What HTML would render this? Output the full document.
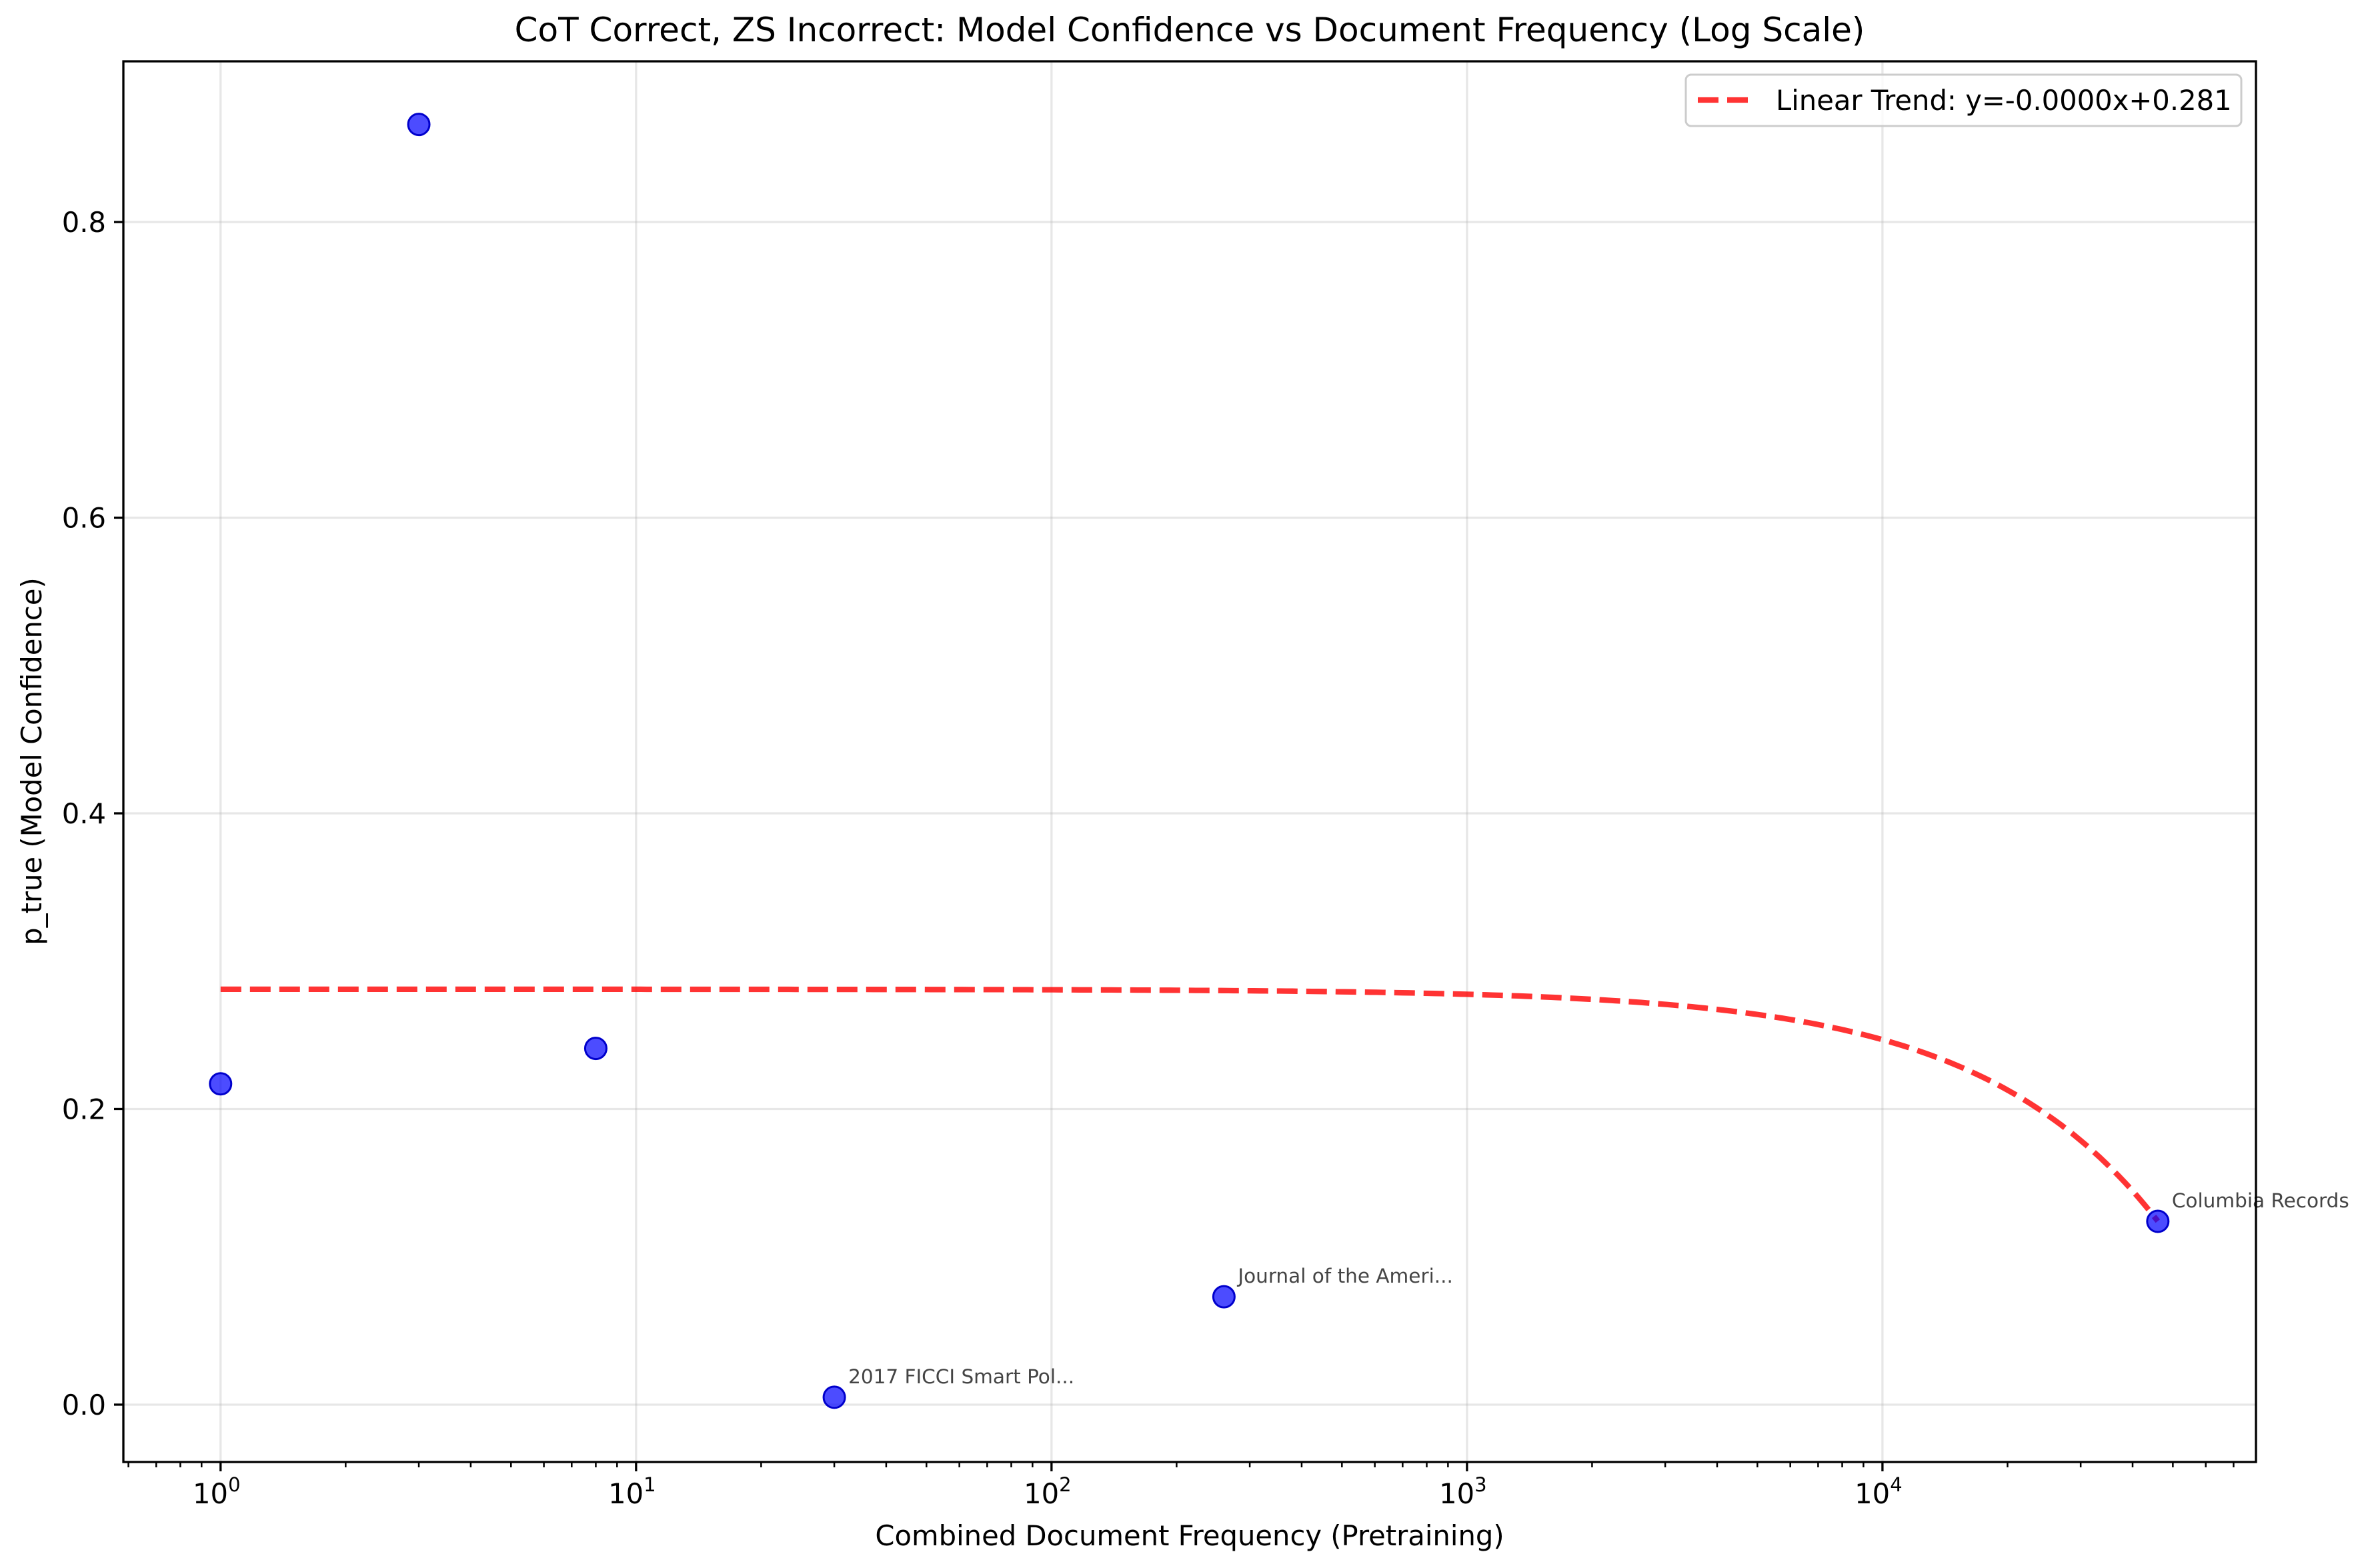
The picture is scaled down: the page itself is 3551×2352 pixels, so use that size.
<!DOCTYPE html>
<html><head><meta charset="utf-8"><style>
html,body{margin:0;padding:0;background:#fff}
svg{display:block;font-family:"DejaVu Sans","Liberation Sans",sans-serif}
</style></head><body>
<svg id="chart" width="3551" height="2352" viewBox="0 0 3551 2352" xmlns="http://www.w3.org/2000/svg">
<rect width="3551" height="2352" fill="#fff"/>
<g id="grid"></g>
<g id="trend"></g>
<g id="points"></g>
<g id="ticks"></g>
<rect x="185" y="92" width="3198" height="2101" fill="none" stroke="#000" stroke-width="3.3"/>
<text x="1784" y="62" font-size="50" text-anchor="middle">CoT Correct, ZS Incorrect: Model Confidence vs Document Frequency (Log Scale)</text>
<text x="1784" y="2318" font-size="41.7" text-anchor="middle">Combined Document Frequency (Pretraining)</text>
<text transform="translate(62,1142) rotate(-90)" font-size="41.7" text-anchor="middle">p_true (Model Confidence)</text>
<g>
<rect x="2528" y="112" width="833" height="77" rx="8" fill="#fff" fill-opacity="0.8" stroke="#ccc" stroke-width="3"/>
<line x1="2546" y1="150" x2="2621" y2="150" stroke="#ff0000" stroke-opacity="0.8" stroke-width="8.3" stroke-dasharray="31,13"/>
<text x="2663" y="165" font-size="41.7">Linear Trend: y=-0.0000x+0.281</text>
</g>
</svg>
<script>
const xValues=[1,3,8,30,260,46000];
const yValues=[0.217,0.866,0.241,0.005,0.073,0.124];
const pointLabels=["","","","2017 FICCI Smart Pol...","Journal of the Ameri...","Columbia Records"];
const yTicks=[0.0,0.2,0.4,0.6,0.8];
const xTickExps=[0,1,2,3,4];
const trendSlope=-3.41e-6;
const trendIntercept=0.281;

const L=185,R=3383,T=92,B=2193;
const xMinE=-0.234,xMaxE=4.899,yMin=-0.0388,yMax=0.9087;
const NS="http://www.w3.org/2000/svg";
function sx(v){return L+(Math.log10(v)-xMinE)/(xMaxE-xMinE)*(R-L);}
function sy(v){return B-(v-yMin)/(yMax-yMin)*(B-T);}
function mk(tag,attrs,parent){const e=document.createElementNS(NS,tag);for(const k in attrs)e.setAttribute(k,attrs[k]);parent.appendChild(e);return e;}
const grid=document.getElementById('grid'),ticks=document.getElementById('ticks');
yTicks.forEach(v=>{
  const y=sy(v);
  const g=mk('line',{x1:L,x2:R,y1:y,y2:y,stroke:'#b0b0b0','stroke-opacity':0.3,'stroke-width':3.3},grid);
  
  
  mk('line',{x1:L-14,x2:L,y1:y,y2:y,stroke:'#000','stroke-width':3.3},ticks);
  const t=mk('text',{x:L-26,y:y+15,'font-size':41.7,'text-anchor':'end'},ticks);
  t.textContent=v.toFixed(1);
  
  
});
xTickExps.forEach(e=>{
  const x=sx(Math.pow(10,e));
  const g=mk('line',{x1:x,x2:x,y1:T,y2:B,stroke:'#b0b0b0','stroke-opacity':0.3,'stroke-width':3.3},grid);
  
  
  mk('line',{x1:x,x2:x,y1:B,y2:B+14,stroke:'#000','stroke-width':3.3},ticks);
  const t=mk('text',{x:x-6,y:B+62,'font-size':41.7,'text-anchor':'middle'},ticks);
  
  
  t.appendChild(document.createTextNode('10'));
  const s=mk('tspan',{dy:-18,'font-size':29},t);s.textContent=String(e);
});
for(let e=-1;e<=4;e++){for(let m=2;m<=9;m++){const v=m*Math.pow(10,e);const lv=Math.log10(v);if(lv<xMinE||lv>xMaxE)continue;const x=sx(v);mk('line',{x1:x,x2:x,y1:B,y2:B+8,stroke:'#000','stroke-width':2.5},ticks);}}
const trend=document.getElementById('trend');
const xmin=Math.min(...xValues),xmax=Math.max(...xValues);
let d='';
for(let i=0;i<=300;i++){const lv=Math.log10(xmin)+(Math.log10(xmax)-Math.log10(xmin))*i/300;const v=Math.pow(10,lv);d+=(i?'L':'M')+sx(v).toFixed(1)+','+sy(trendSlope*v+trendIntercept).toFixed(1);}
const tp=mk('path',{d:d,fill:'none',stroke:'#ff0000','stroke-opacity':0.8,'stroke-width':8.3,'stroke-dasharray':'31,13'},trend);


const pts=document.getElementById('points');
xValues.forEach((xv,i)=>{
  const cx=sx(xv),cy=sy(yValues[i]);
  const c=mk('circle',{cx:cx,cy:cy,r:16,fill:'#0000ff','fill-opacity':0.7,stroke:'#0000cc','stroke-width':3},pts);
  
  
  if(pointLabels[i]){
    const t=mk('text',{x:cx+21,y:cy-21,'font-size':29.5,fill:'#444'},pts);
    t.textContent=pointLabels[i];
    
    
  }
});
</script>
</body></html>
